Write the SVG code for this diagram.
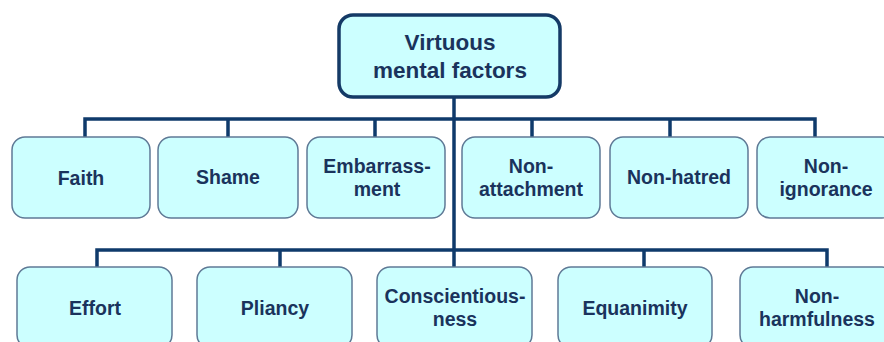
<svg xmlns="http://www.w3.org/2000/svg" width="884" height="342" viewBox="0 0 884 342">
<style>
.box{fill:#ccffff;stroke:#5f7a96;stroke-width:1.5}
.root{fill:#ccffff;stroke:#143a66;stroke-width:3.5}
.t{font-family:"Liberation Sans",Arial,sans-serif;font-weight:bold;font-size:19.5px;fill:#1a335c;text-anchor:middle}
.rt{font-size:22.5px}
.ln{fill:none;stroke:#0f3a6b;stroke-width:3.5;stroke-linejoin:miter}
</style>
<rect width="884" height="342" fill="#ffffff"/>
<g id="connectors">
<path class="ln" d="M454,97 V250"/>
<path class="ln" d="M85,137 V119 H815 V137"/>
<path class="ln" d="M228,119 V137 M375,119 V137 M532,119 V137 M670,119 V137"/>
<path class="ln" d="M97,267 V250 H827 V267"/>
<path class="ln" d="M280,250 V267 M454,250 V267 M644,250 V267"/>
</g>
<g id="root">
<rect class="root" x="339" y="15" width="221" height="82" rx="14"/>
<text class="t rt" x="450" y="50">Virtuous</text>
<text class="t rt" x="450" y="78">mental factors</text>
</g>
<g id="faith"><rect class="box" x="12" y="137" width="138" height="81" rx="13"/><text class="t" x="81" y="185">Faith</text></g>
<g id="shame"><rect class="box" x="158" y="137" width="140" height="81" rx="13"/><text class="t" x="228" y="184">Shame</text></g>
<g id="embarrassment"><rect class="box" x="307" y="137" width="138" height="81" rx="13"/><text class="t" x="377" y="173">Embarrass-</text><text class="t" x="377" y="196">ment</text></g>
<g id="non-attachment"><rect class="box" x="462" y="137" width="138" height="81" rx="13"/><text class="t" x="531" y="173">Non-</text><text class="t" x="531" y="196">attachment</text></g>
<g id="non-hatred"><rect class="box" x="610" y="137" width="138" height="81" rx="13"/><text class="t" x="679" y="184">Non-hatred</text></g>
<g id="non-ignorance"><rect class="box" x="757" y="137" width="138" height="81" rx="13"/><text class="t" x="826" y="173">Non-</text><text class="t" x="826" y="196">ignorance</text></g>
<g id="effort"><rect class="box" x="17" y="267" width="155" height="81" rx="13"/><text class="t" x="95" y="315">Effort</text></g>
<g id="pliancy"><rect class="box" x="197" y="267" width="155" height="81" rx="13"/><text class="t" x="275" y="315">Pliancy</text></g>
<g id="conscientiousness"><rect class="box" x="377" y="267" width="155" height="81" rx="13"/><text class="t" x="455" y="303">Conscientious-</text><text class="t" x="455" y="326">ness</text></g>
<g id="equanimity"><rect class="box" x="558" y="267" width="154" height="81" rx="13"/><text class="t" x="635" y="315">Equanimity</text></g>
<g id="non-harmfulness"><rect class="box" x="740" y="267" width="155" height="81" rx="13"/><text class="t" x="817" y="303">Non-</text><text class="t" x="817" y="326">harmfulness</text></g>
</svg>
